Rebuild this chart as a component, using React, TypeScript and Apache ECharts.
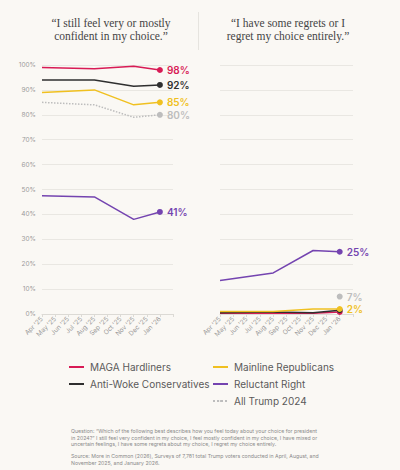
import { useEffect, useRef } from "react";
import * as echarts from "echarts";

// survey months on the x axis (surveys in Apr, Aug, Nov '25 and Jan '26)
const months = [
  "Apr '25", "May '25", "Jun '25", "Jul '25", "Aug '25",
  "Sep '25", "Oct '25", "Nov '25", "Dec '25", "Jan '26",
];

const groups = [
  "MAGA Hardliners",
  "Anti-Woke Conservatives",
  "Mainline Republicans",
  "Reluctant Right",
  "All Trump 2024",
];

// "I still feel very or mostly confident in my choice."
const magaConfident = [99, null, null, null, 98.5, null, null, 99.5, null, 98];
const antiWokeConfident = [94, null, null, null, 94, null, null, 91.5, null, 92];
const mainlineConfident = [89, null, null, null, 90, null, null, 84, null, 85];
const reluctantConfident = [47.5, null, null, null, 47, null, null, 38, null, 41];
const allTrumpConfident = [85, null, null, null, 84, null, null, 79, null, 80];

// "I have some regrets or I regret my choice entirely."
const magaRegret = [0.3, null, null, null, 0.3, null, null, 0.3, null, 0.8];
const antiWokeRegret = [0.5, null, null, null, 0.8, null, null, 0.5, null, 1.5];
const mainlineRegret = [1, null, null, null, 1, null, null, 2, null, 2];
const reluctantRegret = [13.5, null, null, null, 16.5, null, null, 25.5, null, 25];
const allTrumpRegret = [null, null, null, null, null, null, null, null, null, 7];

const colors = ["#d81b55", "#2f2f2f", "#f0c020", "#7444b0", "#bdbdbd"];

const font = "Inter, 'Noto Sans', sans-serif";
const lastIndex = months.length - 1;

function lineSeries(
  idx: number,
  data: (number | null)[],
  grid: number,
  showLabel: boolean
) {
  const color = colors[idx];
  return {
    name: groups[idx],
    type: "line",
    xAxisIndex: grid,
    yAxisIndex: grid,
    data,
    connectNulls: true,
    symbol: "circle",
    symbolSize: (_v: any, p: any) => (p.dataIndex === lastIndex ? 6 : 0),
    lineStyle: { color, width: 1.5, type: idx === 4 ? "dotted" : "solid" },
    itemStyle: { color },
    label: {
      show: showLabel,
      position: "right",
      distance: 4,
      color,
      fontFamily: font,
      fontWeight: 600,
      fontSize: 10,
      formatter: (p: any) => (p.dataIndex === lastIndex ? `${Math.round(p.value)}%` : ""),
    },
    emphasis: { disabled: true },
  };
}

const xAxisBase = (grid: number) => ({
  type: "category",
  gridIndex: grid,
  data: [...months, ""],
  boundaryGap: false,
  axisLine: { lineStyle: { color: "#dcdad5" } },
  axisTick: { show: true, interval: 0, length: 3, lineStyle: { color: "#dcdad5" } },
  axisLabel: {
    interval: 0,
    rotate: 45,
    fontSize: 6.5,
    margin: 4,
    color: "#9a9a9a",
    fontFamily: font,
  },
});

const yAxisBase = (grid: number, showLabels: boolean) => ({
  type: "value",
  gridIndex: grid,
  min: 0,
  max: 100,
  interval: 10,
  axisLine: { show: false },
  axisTick: { show: false },
  axisLabel: {
    show: showLabels,
    formatter: "{value}%",
    fontSize: 6.5,
    margin: 6,
    color: "#9a9a9a",
    fontFamily: font,
  },
  splitLine: { lineStyle: { color: "#e9e7e2", width: 1 } },
});

export default function App() {
  const chartRef = useRef<HTMLDivElement>(null);

  useEffect(() => {
    document.body.style.margin = "0";
    if (!chartRef.current) return;
    const chart = echarts.init(chartRef.current, null, { renderer: "svg" });

    const legendBase = {
      orient: "vertical",
      padding: 0,
      itemWidth: 15,
      itemHeight: 2,
      itemGap: 7,
      selectedMode: false,
      textStyle: { color: "#5a5a5a", fontSize: 10, fontFamily: font, padding: [0, 0, 0, 1] },
    };

    chart.setOption({
      animation: false,
      backgroundColor: "#faf8f4",
      grid: [
        { left: 42, top: 65, width: 131, height: 249 },
        { left: 220, top: 65, width: 133, height: 249 },
      ],
      xAxis: [xAxisBase(0), xAxisBase(1)],
      yAxis: [yAxisBase(0, true), yAxisBase(1, false)],
      legend: [
        { ...legendBase, left: 68, top: 362, data: [groups[0], groups[1]] },
        { ...legendBase, left: 212, top: 362, data: [groups[2], groups[3], groups[4]] },
      ],
      series: [
        lineSeries(0, magaConfident, 0, true),
        lineSeries(1, antiWokeConfident, 0, true),
        lineSeries(2, mainlineConfident, 0, true),
        lineSeries(3, reluctantConfident, 0, true),
        lineSeries(4, allTrumpConfident, 0, true),
        lineSeries(0, magaRegret, 1, false),
        lineSeries(1, antiWokeRegret, 1, false),
        lineSeries(2, mainlineRegret, 1, true),
        lineSeries(3, reluctantRegret, 1, true),
        lineSeries(4, allTrumpRegret, 1, true),
      ],
      graphic: [
        {
          type: "text",
          x: 111,
          y: 29.5,
          style: {
            text: "\u201cI still feel very or mostly\nconfident in my choice.\u201d",
            textAlign: "center",
            textVerticalAlign: "middle",
            fontFamily: "'Liberation Serif', serif",
            fontSize: 11.5,
            lineHeight: 13.5,
            fill: "#444",
          },
        },
        {
          type: "text",
          x: 288,
          y: 29.5,
          style: {
            text: "\u201cI have some regrets or I\nregret my choice entirely.\u201d",
            textAlign: "center",
            textVerticalAlign: "middle",
            fontFamily: "'Liberation Serif', serif",
            fontSize: 11.5,
            lineHeight: 13.5,
            fill: "#444",
          },
        },
        {
          type: "line",
          shape: { x1: 198.5, y1: 12, x2: 198.5, y2: 50 },
          style: { stroke: "#e6e4df", lineWidth: 1 },
        },
        {
          type: "text",
          x: 71,
          y: 428,
          style: {
            text:
              "Question: \u201cWhich of the following best describes how you feel today about your choice for president\n" +
              "in 2024?\u201d I still feel very confident in my choice, I feel mostly confident in my choice, I have mixed or\n" +
              "uncertain feelings, I have some regrets about my choice, I regret my choice entirely.",
            fontFamily: font,
            fontSize: 5.2,
            lineHeight: 6.5,
            fill: "#8a8a8a",
          },
        },
        {
          type: "text",
          x: 71,
          y: 453,
          style: {
            text:
              "Source: More in Common (2026), Surveys of 7,781 total Trump voters conducted in April, August, and\n" +
              "November 2025, and January 2026.",
            fontFamily: font,
            fontSize: 5.2,
            lineHeight: 6.5,
            fill: "#8a8a8a",
          },
        },
      ],
    });

    return () => {
      chart.dispose();
    };
  }, []);

  return <div ref={chartRef} style={{ width: "400px", height: "470px" }}></div>;
}
